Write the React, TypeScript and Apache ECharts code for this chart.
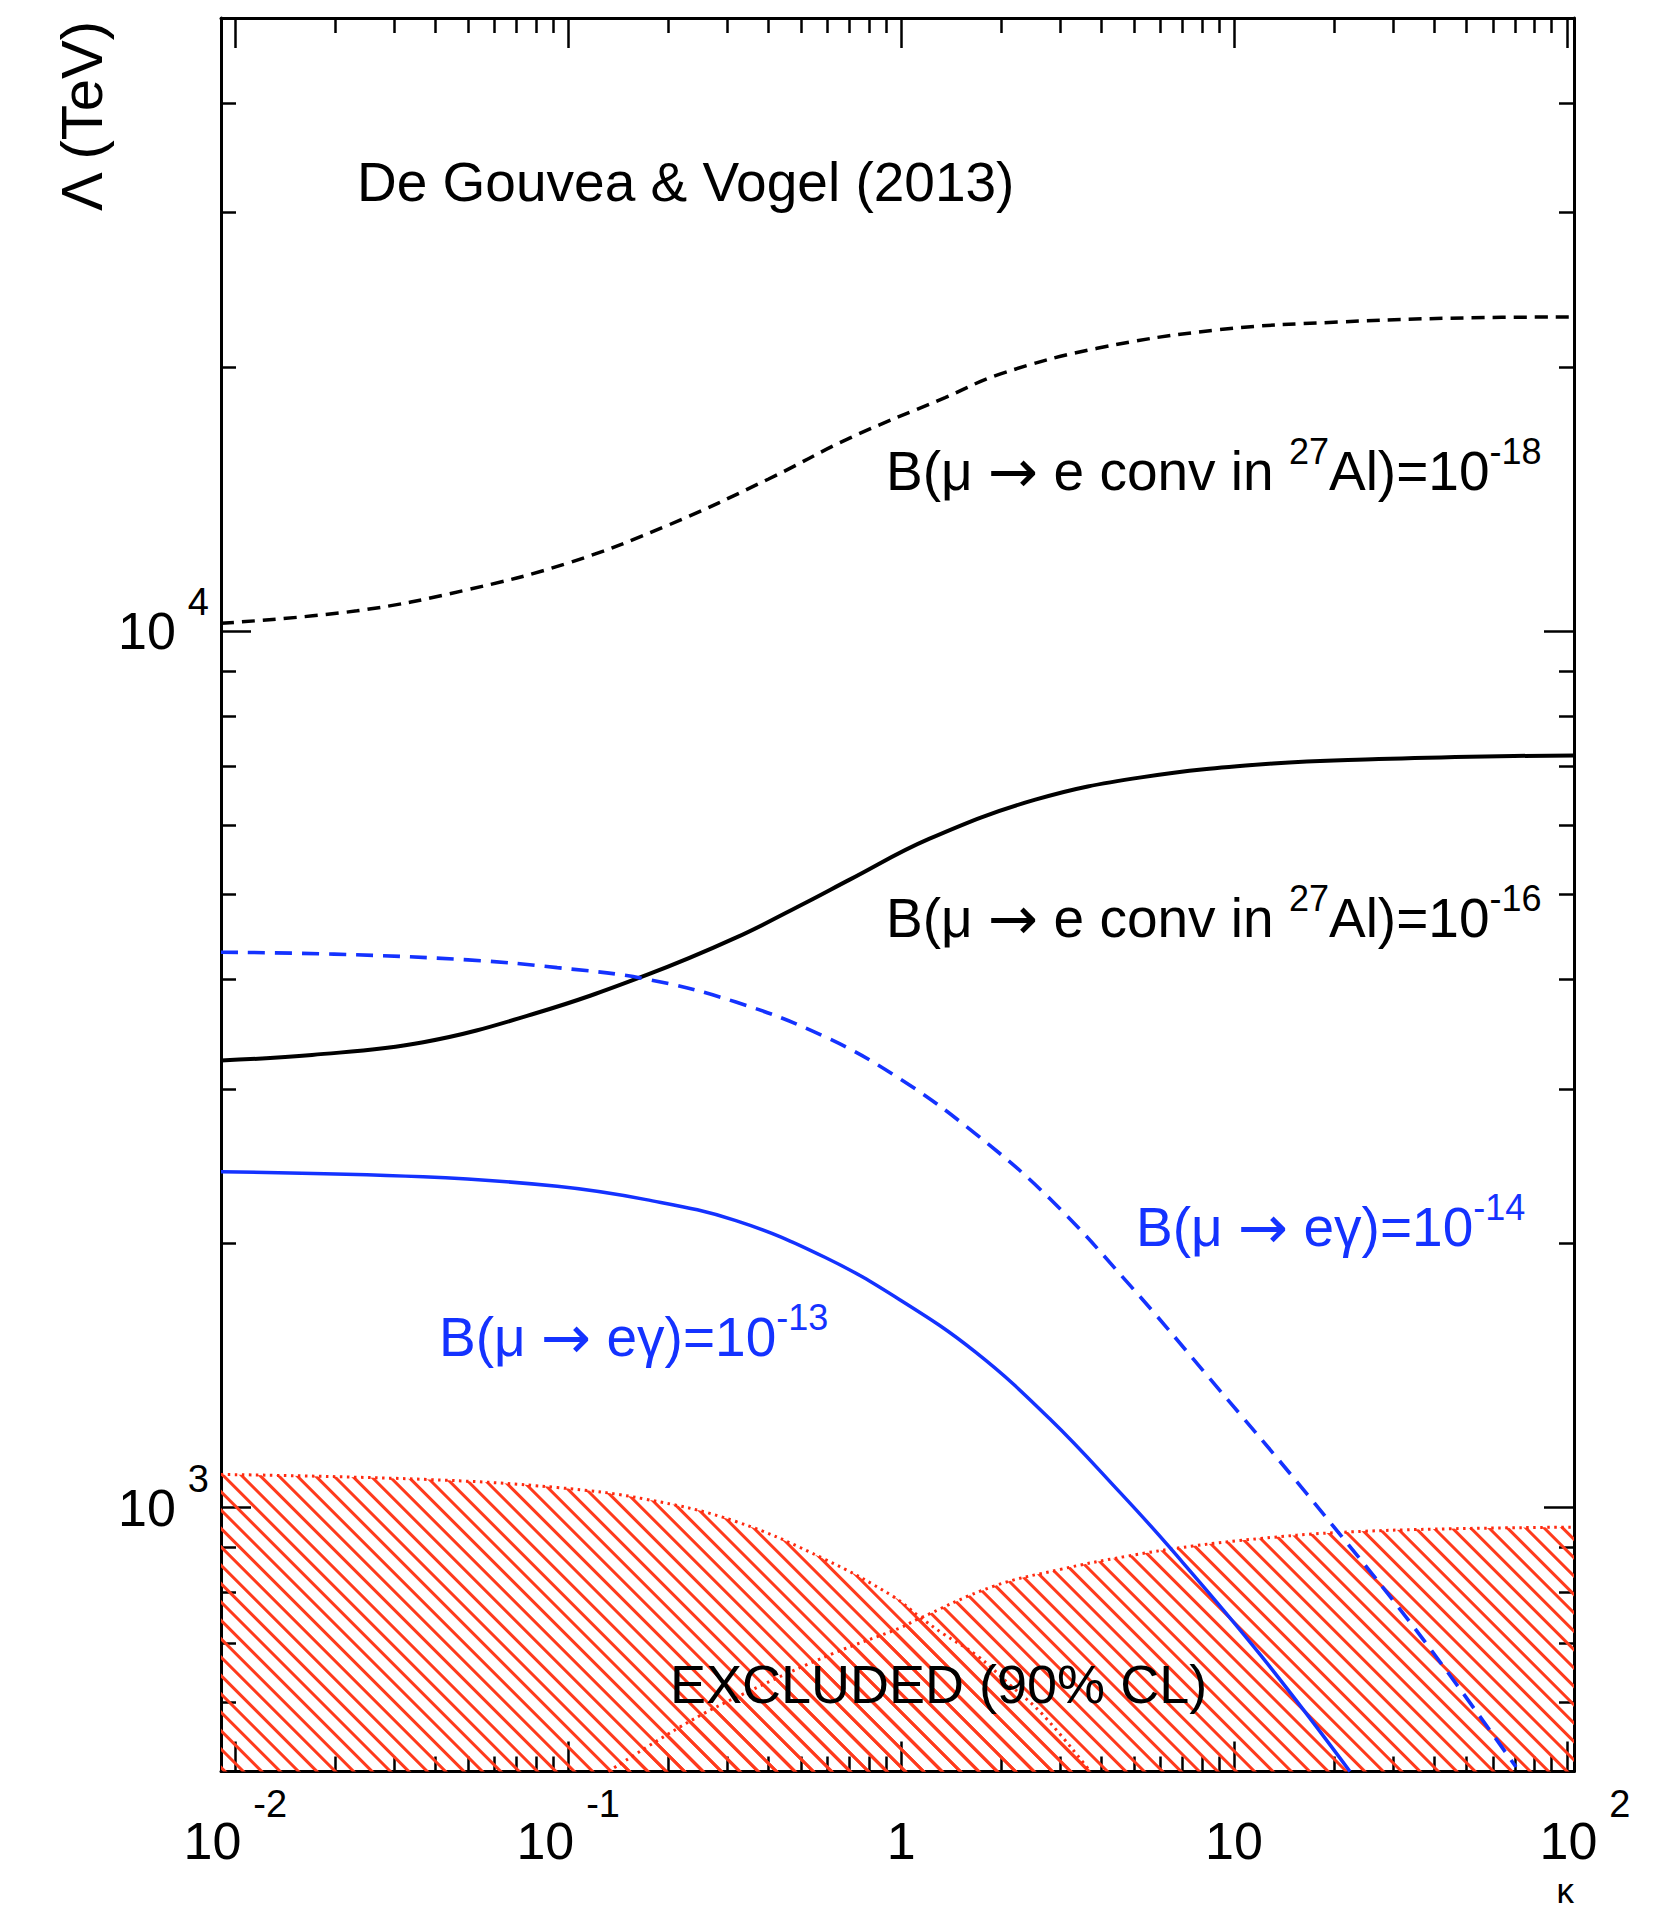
import React, { useEffect, useRef } from 'react';
import * as echarts from 'echarts';

const FONT = '"Liberation Sans", Arial, Helvetica, sans-serif';
const ARROW_FONT = '"DejaVu Sans", "Liberation Sans", sans-serif';
const BLUE = '#1432ff';
const RED = '#ff2a10';
const HATCH = '#ff3a1c';
const BLACK = '#000000';

const X_MIN = 0.00906;
const X_MAX = 105;
const Y_MIN = 500;
const Y_MAX = 50000;

// tick values
const xMajorTicks = [0.01, 0.1, 1, 10, 100];
const xMinorTicks = [
  0.02, 0.03, 0.04, 0.05, 0.06, 0.07, 0.08, 0.09,
  0.2, 0.3, 0.4, 0.5, 0.6, 0.7, 0.8, 0.9,
  2, 3, 4, 5, 6, 7, 8, 9,
  20, 30, 40, 50, 60, 70, 80, 90,
];
const yMajorTicks = [1000, 10000];
const yMinorTicks = [600, 700, 800, 900, 2000, 3000, 4000, 5000, 6000, 7000, 8000, 9000, 20000, 30000, 40000];

// B(mu -> e conv in 27Al) = 1e-18 (black dashed)
const kappaConv18 = [0.00906, 0.0232, 0.0488, 0.1, 0.2, 0.4, 0.703, 1.356, 2.0, 3.88, 9.0, 20.5, 50, 105];
const lambdaConv18 = [10200, 10540, 11120, 11950, 13200, 14900, 16600, 18450, 19650, 21000, 22050, 22500, 22750, 22800];

// B(mu -> e conv in 27Al) = 1e-16 (black solid)
const kappaConv16 = [0.00906, 0.017, 0.0367, 0.0794, 0.1714, 0.319, 0.522, 0.703, 1.213, 2.53, 5.26, 13.1, 27.2, 56.7, 105];
const lambdaConv16 = [3236, 3283, 3394, 3660, 4048, 4467, 4906, 5206, 5790, 6418, 6805, 7058, 7140, 7190, 7210];

// B(mu -> e gamma) = 1e-14 (blue dashed)
const kappaMeg14 = [0.00906, 0.0198, 0.05, 0.0927, 0.1714, 0.319, 0.59, 0.993, 1.67, 2.8, 4.88, 8.5, 16.6, 35.7, 70.3];
const lambdaMeg14 = [4300, 4278, 4214, 4129, 4007, 3772, 3444, 3083, 2670, 2250, 1791, 1400, 1035, 720, 506];

// B(mu -> e gamma) = 1e-13 (blue solid)
const kappaMeg13 = [0.00906, 0.0367, 0.0927, 0.1714, 0.319, 0.59, 0.993, 1.67, 2.8, 4.55, 6.42, 11.97, 22.3];
const lambdaMeg13 = [2416, 2384, 2325, 2245, 2125, 1930, 1725, 1505, 1262, 1040, 900, 680, 500];

// excluded region from mu -> e gamma
const kappaExclMeg = [0.00906, 0.0367, 0.0927, 0.1714, 0.319, 0.59, 0.946, 1.14, 1.337, 1.69, 2.12, 2.67, 3.7];
const lambdaExclMeg = [1091, 1077, 1054, 1022, 964, 873, 792, 750, 718, 678, 628, 580, 500];

// excluded region from mu -> e conversion
const kappaExclConv = [0.132, 0.231, 0.342, 0.62, 0.993, 1.114, 1.89, 3.0, 4.76, 7.53, 11.97, 19.9, 40, 105];
const lambdaExclConv = [500, 570, 615, 681, 729, 745, 813, 850, 880, 904, 922, 936, 945, 950];

const pairs = (xs: number[], ys: number[]) => xs.map((x, i) => [x, ys[i]]);
const expOf = (v: number) => Math.round(Math.log10(v));

const formatX = (v: number) => {
  const e = expOf(v);
  if (e === 0) return '{m|1}';
  if (e === 1) return '{m|10}';
  return (e > 0 ? '{mp|10}' : '{m|10}') + '{s|' + e + '}';
};
const formatY = (v: number) => '{m|10}{s|' + expOf(v) + '}';

const xRich = {
  m: { fontSize: 52, fontFamily: FONT, color: BLACK, lineHeight: 82, verticalAlign: 'bottom' },
  mp: { fontSize: 52, fontFamily: FONT, color: BLACK, lineHeight: 82, verticalAlign: 'bottom', padding: [0, 0, 0, 36] },
  s: { fontSize: 38, fontFamily: FONT, color: BLACK, lineHeight: 38, verticalAlign: 'top', padding: [0, 0, 0, 12] },
};
const yRich = {
  m: { fontSize: 52, fontFamily: FONT, color: BLACK, lineHeight: 98 },
  s: { fontSize: 38, fontFamily: FONT, color: BLACK, padding: [0, 0, 58, 12] },
};

const axisLineStyle = { color: BLACK, width: 3 };
const tickStyle = { color: BLACK, width: 2.5 };

const makeX = (position: string, ticks: number[], len: number, line: boolean, labels: boolean) => ({
  type: 'log',
  logBase: 10,
  min: X_MIN,
  max: X_MAX,
  position,
  axisLine: { show: line, onZero: false, lineStyle: axisLineStyle },
  axisTick: { show: true, inside: true, length: len, customValues: ticks, lineStyle: tickStyle },
  axisLabel: labels
    ? { show: true, customValues: xMajorTicks, formatter: formatX, margin: 13, rich: xRich }
    : { show: false },
  splitLine: { show: false },
  minorTick: { show: false },
});

const makeY = (position: string, ticks: number[], len: number, line: boolean, labels: boolean) => ({
  type: 'log',
  logBase: 10,
  min: Y_MIN,
  max: Y_MAX,
  position,
  axisLine: { show: line, onZero: false, lineStyle: axisLineStyle },
  axisTick: { show: true, inside: true, length: len, customValues: ticks, lineStyle: tickStyle },
  axisLabel: labels
    ? { show: true, customValues: yMajorTicks, formatter: formatY, margin: 12, rich: yRich }
    : { show: false },
  splitLine: { show: false },
  minorTick: { show: false },
});

const hatchDecal = {
  symbol: 'rect',
  symbolSize: 1,
  color: HATCH,
  backgroundColor: 'rgba(255,255,255,0)',
  dashArrayX: [20, 0],
  dashArrayY: [2.2, 9.8],
  rotation: Math.PI / 4,
};

const lineBase = {
  type: 'line',
  showSymbol: false,
  symbol: 'none',
  smooth: 0.4,
  silent: true,
  clip: true,
};

const richFor = (color: string) => ({
  n: { fontSize: 55, fontFamily: FONT, fill: color },
  a: { fontSize: 60, fontFamily: ARROW_FONT, fill: color },
  s: { fontSize: 36, fontFamily: FONT, fill: color, padding: [0, 0, 40, 0] },
});

const option = {
  animation: false,
  backgroundColor: '#ffffff',
  grid: { left: 221, right: 106, top: 18, bottom: 139.5, containLabel: false, outerBoundsMode: 'none' },
  xAxis: [
    makeX('bottom', xMajorTicks, 30, true, true),
    makeX('bottom', xMinorTicks, 15, false, false),
    makeX('top', xMajorTicks, 30, true, false),
    makeX('top', xMinorTicks, 15, false, false),
  ],
  yAxis: [
    makeY('left', yMajorTicks, 30, true, true),
    makeY('left', yMinorTicks, 15, false, false),
    makeY('right', yMajorTicks, 30, true, false),
    makeY('right', yMinorTicks, 15, false, false),
  ],
  series: [
    {
      ...lineBase,
      name: 'excluded meg',
      data: pairs(kappaExclMeg, lambdaExclMeg),
      lineStyle: { color: RED, width: 3, type: [2.5, 4.5] },
      itemStyle: { color: RED, decal: hatchDecal },
      areaStyle: { color: 'rgba(255,255,255,0)', opacity: 1, origin: 'start' },
      z: 2,
    },
    {
      ...lineBase,
      name: 'excluded conv',
      data: pairs(kappaExclConv, lambdaExclConv),
      lineStyle: { color: RED, width: 3, type: [2.5, 4.5] },
      itemStyle: { color: RED, decal: hatchDecal },
      areaStyle: { color: 'rgba(255,255,255,0)', opacity: 1, origin: 'start' },
      z: 2,
    },
    {
      ...lineBase,
      name: 'conv 1e-18',
      data: pairs(kappaConv18, lambdaConv18),
      lineStyle: { color: BLACK, width: 3.5, type: [13, 8] },
      itemStyle: { color: BLACK },
      z: 3,
    },
    {
      ...lineBase,
      name: 'conv 1e-16',
      data: pairs(kappaConv16, lambdaConv16),
      lineStyle: { color: BLACK, width: 4, type: 'solid' },
      itemStyle: { color: BLACK },
      z: 3,
    },
    {
      ...lineBase,
      name: 'meg 1e-14',
      data: pairs(kappaMeg14, lambdaMeg14),
      lineStyle: { color: BLUE, width: 3.6, type: [17, 10] },
      itemStyle: { color: BLUE },
      z: 3,
    },
    {
      ...lineBase,
      name: 'meg 1e-13',
      data: pairs(kappaMeg13, lambdaMeg13),
      lineStyle: { color: BLUE, width: 3.5, type: 'solid' },
      itemStyle: { color: BLUE },
      z: 3,
    },
  ],
  graphic: {
    elements: [
      {
        type: 'text', x: 357, y: 182, z: 100,
        style: { text: 'De Gouvea & Vogel (2013)', fontSize: 55, fontFamily: FONT, fill: BLACK, align: 'left', verticalAlign: 'middle' },
      },
      {
        type: 'text', x: 886, y: 471, z: 100,
        style: { text: '{n|B(μ }{a|→}{n| e conv in }{s|27}{n|Al)=10}{s|-18}', rich: richFor(BLACK), align: 'left', verticalAlign: 'middle' },
      },
      {
        type: 'text', x: 886, y: 918, z: 100,
        style: { text: '{n|B(μ }{a|→}{n| e conv in }{s|27}{n|Al)=10}{s|-16}', rich: richFor(BLACK), align: 'left', verticalAlign: 'middle' },
      },
      {
        type: 'text', x: 1136, y: 1227, z: 100,
        style: { text: '{n|B(μ }{a|→}{n| eγ)=10}{s|-14}', rich: richFor(BLUE), align: 'left', verticalAlign: 'middle' },
      },
      {
        type: 'text', x: 439, y: 1337, z: 100,
        style: { text: '{n|B(μ }{a|→}{n| eγ)=10}{s|-13}', rich: richFor(BLUE), align: 'left', verticalAlign: 'middle' },
      },
      {
        type: 'text', x: 670, y: 1684, z: 100,
        style: { text: 'EXCLUDED (90% CL)', fontSize: 54, fontFamily: FONT, fill: BLACK, align: 'left', verticalAlign: 'middle' },
      },
      {
        type: 'text', x: 81, y: 116, rotation: Math.PI / 2, z: 100,
        style: { text: 'Λ (TeV)', fontSize: 58, fontFamily: FONT, fill: BLACK, align: 'center', verticalAlign: 'middle' },
      },
      {
        type: 'text', x: 1574, y: 1890, z: 100,
        style: { text: 'κ', fontSize: 35, lineHeight: 36, fontFamily: FONT, fill: BLACK, align: 'right', verticalAlign: 'middle' },
      },
    ],
  },
};

export default function App() {
  const ref = useRef<HTMLDivElement>(null);
  useEffect(() => {
    const chart = echarts.init(ref.current as HTMLDivElement, null, { renderer: 'svg', width: 1680, height: 1911 });
    chart.setOption(option as any);
    return () => chart.dispose();
  }, []);
  return (
    <div
      ref={ref}
      style={{ position: 'absolute', left: 0, top: 0, width: 1680, height: 1911, background: '#ffffff' }}
    />
  );
}
